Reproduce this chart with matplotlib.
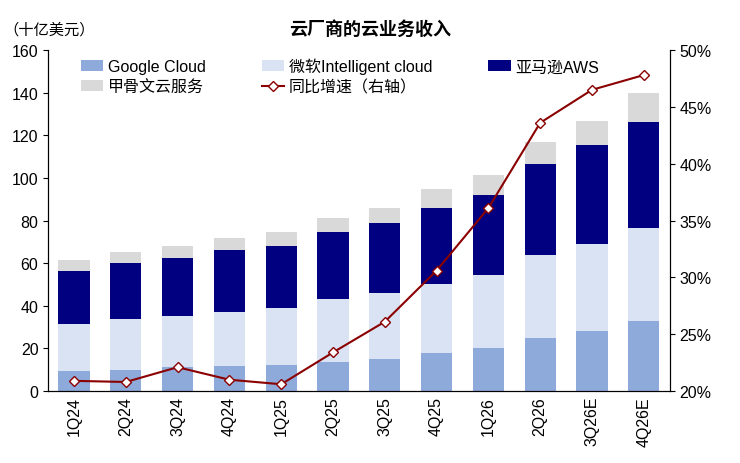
import numpy as np
import matplotlib.pyplot as plt
from matplotlib.ticker import FuncFormatter

plt.rcParams['font.family'] = ['Liberation Sans', 'Noto Sans CJK SC', 'DejaVu Sans']

quarters = ['1Q24', '2Q24', '3Q24', '4Q24', '1Q25', '2Q25', '3Q25', '4Q25',
            '1Q26', '2Q26', '3Q26E', '4Q26E']
google = [9.4, 10.0, 11.3, 12.0, 12.3, 13.6, 15.1, 17.9, 20.2, 24.9, 28.2, 32.9]
ms_cum = [31.5, 34.0, 35.3, 37.2, 39.0, 43.3, 46.1, 50.4, 54.6, 64.0, 69.2, 76.7]
aws_cum = [56.5, 60.0, 62.6, 66.4, 68.2, 74.4, 79.0, 86.1, 92.2, 106.4, 115.3, 126.1]
total = [61.6, 65.4, 68.2, 72.0, 74.4, 81.0, 86.1, 94.6, 101.2, 116.7, 126.6, 139.8]
growth = [20.9, 20.8, 22.1, 21.0, 20.6, 23.4, 26.1, 30.6, 36.1, 43.6, 46.5, 47.8]

google = np.array(google)
microsoft = np.array(ms_cum) - google
aws = np.array(aws_cum) - np.array(ms_cum)
ali = np.array(total) - np.array(aws_cum)

x = np.arange(len(quarters))
w = 0.6
fig, ax = plt.subplots(figsize=(7.4, 4.64), dpi=100)
fig.subplots_adjust(left=0.065, right=0.905, top=0.89, bottom=0.155)

b1 = ax.bar(x, google, w, color='#8eaadb', label='Google Cloud')
b2 = ax.bar(x, microsoft, w, bottom=google, color='#dae3f3', label='微软Intelligent cloud')
b3 = ax.bar(x, aws, w, bottom=google + microsoft, color='#000080', label='亚马逊AWS')
b4 = ax.bar(x, ali, w, bottom=google + microsoft + aws, color='#d9d9d9', label='甲骨文云服务')

ax2 = ax.twinx()
ln, = ax2.plot(x, growth, color='#8b0000', lw=1.5, marker='D', ms=5,
               mfc='white', mec='#8b0000', label='同比增速（右轴）')

ax.set_ylim(0, 160)
ax.set_yticks(range(0, 161, 20))
ax2.set_ylim(20, 50)
ax2.set_yticks(range(20, 51, 5))
ax2.yaxis.set_major_formatter(FuncFormatter(lambda v, p: f'{v:.0f}%'))
ax.set_xlim(-0.5, len(x) - 0.5)
ax.set_xticks(x)
ax.set_xticklabels(quarters, rotation=90)
for a in (ax, ax2):
    a.tick_params(labelsize=11.5)
    a.spines['top'].set_visible(False)
ax.tick_params(axis='x', length=0)

# column-major order so rows read: G, MS, AWS / Oracle, growth
handles = [b1, b4, b2, ln, b3]
labels = [h.get_label() for h in handles]
ax.legend(handles, labels, ncol=3, loc='upper left', bbox_to_anchor=(0.04, 1.0),
          frameon=False, fontsize=11.5, handlelength=1.4, columnspacing=3.5,
          handletextpad=0.3, borderaxespad=0.1, labelspacing=0.3)

fig.text(0.5, 0.925, '云厂商的云业务收入', ha='center', fontsize=13, fontweight='bold')
fig.text(0.005, 0.925, '（十亿美元）', ha='left', fontsize=11)

fig.savefig('out.png')
